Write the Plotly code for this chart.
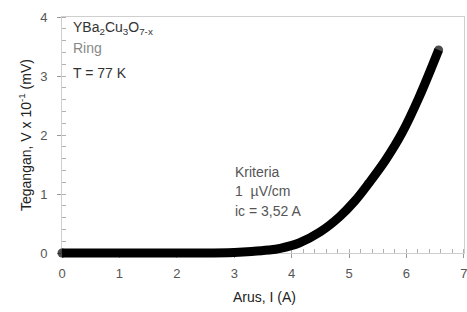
import plotly.graph_objects as go

# Data (current in A, voltage in units of 10^-1 mV)
current_A = [0.0, 0.5, 1.0, 1.5, 2.0, 2.5, 3.0, 3.3, 3.6, 3.8, 4.13, 4.5, 4.83, 5.1, 5.35, 5.64, 5.92, 6.22, 6.56]
voltage = [0.0, 0.0, 0.0, 0.0, 0.0, 0.0, 0.01, 0.025, 0.05, 0.08, 0.17, 0.36, 0.61, 0.88, 1.19, 1.58, 2.03, 2.64, 3.44]
x_ticks = [0, 1, 2, 3, 4, 5, 6, 7]
y_ticks = [0, 1, 2, 3, 4]
x_range = [0, 7.002]
y_range = [0, 4]

W, H = 467, 312
ml, mr, mt, mb = 56, 3, 17, 53
pw = W - ml - mr
ph = H - mt - mb
dx = 6 / pw   # visible axes start a few px inside so the thick curve is not clipped
dy = 6 / ph

x2_range = [x_range[0] - (x_range[1] - x_range[0]) * dx / (1 - dx), x_range[1]]
y2_range = [y_range[0] - (y_range[1] - y_range[0]) * dy / (1 - dy), y_range[1]]


def paper_x(px):
    return (px - ml) / pw


def paper_y(py):
    return (H - mb - py) / ph


n = len(current_A)
fig = go.Figure()
fig.add_trace(go.Scatter(
    x=current_A, y=voltage, xaxis="x2", yaxis="y2",
    mode="lines+markers", line=dict(color="black", width=9, shape="spline", smoothing=1.0),
    marker=dict(color="black", size=[9] + [0] * (n - 2) + [9], line=dict(width=0)),
    showlegend=False, hoverinfo="skip"))

axis_common = dict(
    showgrid=False, zeroline=False, showline=True, mirror=True,
    linecolor="#cfcfcf", linewidth=1, automargin=False,
    ticks="outside", ticklen=4, tickcolor="#9a9a9a", ticklabeloverflow="allow",
    tickfont=dict(family="Liberation Sans, Arial", size=13, color="#555555"),
    minor=dict(ticks="inside", ticklen=4, tickcolor="#b0b0b0", dtick=0.2, showgrid=False),
)

fig.update_layout(
    width=W, height=H,
    margin=dict(l=ml, r=mr, t=mt, b=mb),
    paper_bgcolor="white", plot_bgcolor="rgba(0,0,0,0)",
    xaxis=dict(domain=[dx, 1], range=x_range, tickvals=x_ticks, anchor="y",
               ticklabelstandoff=4, **axis_common),
    yaxis=dict(domain=[dy, 1], range=y_range, tickvals=y_ticks, anchor="x",
               ticklabelstandoff=7, **axis_common),
    xaxis2=dict(domain=[0, 1], range=x2_range, visible=False, anchor="y2"),
    yaxis2=dict(domain=[0, 1], range=y2_range, visible=False, anchor="x2"),
)

title_font = dict(family="Liberation Sans, Arial", size=14, color="#222222")
fig.add_annotation(x=paper_x(264), y=paper_y(297), xref="paper", yref="paper",
                   text="Arus, I (A)", showarrow=False, xanchor="center", yanchor="middle",
                   font=title_font)
fig.add_annotation(x=paper_x(25), y=paper_y(135), xref="paper", yref="paper",
                   text="Tegangan, V x 10<sup>-1</sup> (mV)", showarrow=False, textangle=-90,
                   xanchor="center", yanchor="middle", font=title_font)

ann_font = dict(family="Liberation Sans, Arial", size=14)
notes = [
    ("YBa<sub>2</sub>Cu<sub>3</sub>O<sub>7-x</sub>", 0.16, 3.81, "#333333"),
    ("Ring", 0.16, 3.48, "#888888"),
    ("T = 77 K", 0.16, 3.05, "#333333"),
    ("Kriteria", 2.98, 1.37, "#555555"),
    ("1  \u00b5V/cm", 2.98, 1.05, "#555555"),
    ("ic = 3,52 A", 2.98, 0.71, "#555555"),
]
for txt, ax_, ay_, col in notes:
    fig.add_annotation(x=ax_, y=ay_, xref="x", yref="y", text=txt, showarrow=False,
                       xanchor="left", yanchor="middle", font=dict(color=col, **ann_font))

fig.write_html("out.html", config={"displayModeBar": False},
               post_script="document.body.style.margin='0';document.body.style.overflow='hidden';")
